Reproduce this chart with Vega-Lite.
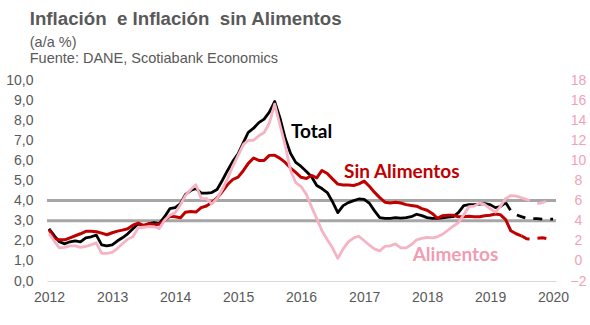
{
  "$schema": "https://vega.github.io/schema/vega-lite/v6.json",
  "width": 509,
  "height": 201,
  "padding": {"left": 5, "top": 9, "right": 2, "bottom": 2},
  "background": "white",
  "config": {
    "view": {"stroke": null},
    "font": "Liberation Sans",
    "axis": {"grid": false, "ticks": false, "labelFont": "Liberation Sans", "labelFontSize": 14, "labelColor": "#595959", "title": null}
  },
  "title": {
    "text": "Inflación\u00a0 e Inflación\u00a0 sin Alimentos",
    "subtitle": ["(a/a %)", "Fuente: DANE, Scotiabank Economics"],
    "anchor": "start",
    "frame": "bounds",
    "dx": 24,
    "font": "Liberation Sans",
    "fontSize": 18.7,
    "fontWeight": "bold",
    "color": "#595959",
    "subtitleFont": "Liberation Sans",
    "subtitleFontSize": 14.5,
    "subtitleColor": "#595959",
    "subtitleLineHeight": 16,
    "subtitlePadding": 7,
    "offset": 8
  },
  "datasets": {
    "d": [
      {"f": "2012-01-01", "T": 2.6, "S": 2.55, "A": 2.7},
      {"f": "2012-02-01", "T": 2.25, "S": 2.11, "A": 1.95},
      {"f": "2012-03-01", "T": 1.95, "S": 2.05, "A": 1.3},
      {"f": "2012-04-01", "T": 1.85, "S": 2.05, "A": 1.35},
      {"f": "2012-05-01", "T": 1.95, "S": 2.15, "A": 1.5},
      {"f": "2012-06-01", "T": 2.0, "S": 2.25, "A": 1.5},
      {"f": "2012-07-01", "T": 1.95, "S": 2.35, "A": 1.35},
      {"f": "2012-08-01", "T": 2.15, "S": 2.47, "A": 1.45},
      {"f": "2012-09-01", "T": 2.2, "S": 2.47, "A": 1.6},
      {"f": "2012-10-01", "T": 2.28, "S": 2.45, "A": 1.8},
      {"f": "2012-11-01", "T": 1.8, "S": 2.38, "A": 0.75},
      {"f": "2012-12-01", "T": 1.75, "S": 2.3, "A": 0.74},
      {"f": "2013-01-01", "T": 1.8, "S": 2.4, "A": 0.85},
      {"f": "2013-02-01", "T": 2.0, "S": 2.48, "A": 1.25},
      {"f": "2013-03-01", "T": 2.15, "S": 2.53, "A": 1.7},
      {"f": "2013-04-01", "T": 2.35, "S": 2.6, "A": 2.16},
      {"f": "2013-05-01", "T": 2.6, "S": 2.78, "A": 2.4},
      {"f": "2013-06-01", "T": 2.85, "S": 2.88, "A": 3.3},
      {"f": "2013-07-01", "T": 2.75, "S": 2.77, "A": 3.35},
      {"f": "2013-08-01", "T": 2.85, "S": 2.85, "A": 3.4},
      {"f": "2013-09-01", "T": 2.9, "S": 2.8, "A": 3.4},
      {"f": "2013-10-01", "T": 2.85, "S": 2.82, "A": 3.22},
      {"f": "2013-11-01", "T": 3.2, "S": 3.02, "A": 4.05},
      {"f": "2013-12-01", "T": 3.6, "S": 3.22, "A": 4.55},
      {"f": "2014-01-01", "T": 3.65, "S": 3.2, "A": 4.8},
      {"f": "2014-02-01", "T": 3.85, "S": 3.15, "A": 5.6},
      {"f": "2014-03-01", "T": 4.3, "S": 3.42, "A": 6.5},
      {"f": "2014-04-01", "T": 4.5, "S": 3.46, "A": 7.1},
      {"f": "2014-05-01", "T": 4.6, "S": 3.43, "A": 7.57},
      {"f": "2014-06-01", "T": 4.37, "S": 3.65, "A": 6.2},
      {"f": "2014-07-01", "T": 4.37, "S": 3.73, "A": 6.2},
      {"f": "2014-08-01", "T": 4.4, "S": 3.9, "A": 5.65},
      {"f": "2014-09-01", "T": 4.55, "S": 4.13, "A": 6.2},
      {"f": "2014-10-01", "T": 5.0, "S": 4.45, "A": 7.1},
      {"f": "2014-11-01", "T": 5.5, "S": 4.8, "A": 8.2},
      {"f": "2014-12-01", "T": 5.95, "S": 5.05, "A": 9.4},
      {"f": "2015-01-01", "T": 6.33, "S": 5.17, "A": 10.5},
      {"f": "2015-02-01", "T": 6.9, "S": 5.5, "A": 11.6},
      {"f": "2015-03-01", "T": 7.4, "S": 5.85, "A": 12.0},
      {"f": "2015-04-01", "T": 7.6, "S": 6.12, "A": 12.0},
      {"f": "2015-05-01", "T": 7.88, "S": 6.0, "A": 12.45},
      {"f": "2015-06-01", "T": 8.05, "S": 6.0, "A": 12.78},
      {"f": "2015-07-01", "T": 8.4, "S": 6.25, "A": 13.7},
      {"f": "2015-08-01", "T": 8.93, "S": 6.26, "A": 15.6},
      {"f": "2015-09-01", "T": 8.1, "S": 6.1, "A": 13.5},
      {"f": "2015-10-01", "T": 7.1, "S": 5.9, "A": 11.5},
      {"f": "2015-11-01", "T": 6.35, "S": 5.62, "A": 9.0},
      {"f": "2015-12-01", "T": 5.9, "S": 5.4, "A": 7.8},
      {"f": "2016-01-01", "T": 5.7, "S": 5.16, "A": 7.4},
      {"f": "2016-02-01", "T": 5.45, "S": 5.1, "A": 6.6},
      {"f": "2016-03-01", "T": 5.2, "S": 5.25, "A": 5.4},
      {"f": "2016-04-01", "T": 4.75, "S": 5.13, "A": 4.2},
      {"f": "2016-05-01", "T": 4.6, "S": 5.5, "A": 3.0},
      {"f": "2016-06-01", "T": 4.4, "S": 5.35, "A": 2.1},
      {"f": "2016-07-01", "T": 3.95, "S": 5.08, "A": 1.3},
      {"f": "2016-08-01", "T": 3.4, "S": 4.82, "A": 0.25},
      {"f": "2016-09-01", "T": 3.75, "S": 4.78, "A": 1.2},
      {"f": "2016-10-01", "T": 3.9, "S": 4.78, "A": 1.9},
      {"f": "2016-11-01", "T": 4.0, "S": 4.75, "A": 2.3},
      {"f": "2016-12-01", "T": 4.08, "S": 4.83, "A": 2.45},
      {"f": "2017-01-01", "T": 4.06, "S": 4.97, "A": 2.0},
      {"f": "2017-02-01", "T": 3.86, "S": 4.7, "A": 1.56},
      {"f": "2017-03-01", "T": 3.5, "S": 4.42, "A": 1.2},
      {"f": "2017-04-01", "T": 3.15, "S": 4.15, "A": 1.0},
      {"f": "2017-05-01", "T": 3.12, "S": 3.92, "A": 1.45},
      {"f": "2017-06-01", "T": 3.12, "S": 3.88, "A": 1.5},
      {"f": "2017-07-01", "T": 3.15, "S": 3.92, "A": 1.7},
      {"f": "2017-08-01", "T": 3.13, "S": 3.88, "A": 1.3},
      {"f": "2017-09-01", "T": 3.15, "S": 3.8, "A": 1.3},
      {"f": "2017-10-01", "T": 3.2, "S": 3.76, "A": 1.6},
      {"f": "2017-11-01", "T": 3.32, "S": 3.72, "A": 2.1},
      {"f": "2017-12-01", "T": 3.25, "S": 3.6, "A": 2.25},
      {"f": "2018-01-01", "T": 3.15, "S": 3.52, "A": 2.35},
      {"f": "2018-02-01", "T": 3.12, "S": 3.35, "A": 2.3},
      {"f": "2018-03-01", "T": 3.12, "S": 3.12, "A": 2.4},
      {"f": "2018-04-01", "T": 3.14, "S": 3.25, "A": 2.65},
      {"f": "2018-05-01", "T": 3.18, "S": 3.27, "A": 3.05},
      {"f": "2018-06-01", "T": 3.2, "S": 3.27, "A": 3.45},
      {"f": "2018-07-01", "T": 3.4, "S": 3.2, "A": 3.8},
      {"f": "2018-08-01", "T": 3.75, "S": 3.2, "A": 4.6},
      {"f": "2018-09-01", "T": 3.8, "S": 3.22, "A": 5.4},
      {"f": "2018-10-01", "T": 3.8, "S": 3.2, "A": 5.46},
      {"f": "2018-11-01", "T": 3.82, "S": 3.2, "A": 5.75},
      {"f": "2018-12-01", "T": 3.85, "S": 3.25, "A": 5.6},
      {"f": "2019-01-01", "T": 3.8, "S": 3.27, "A": 5.2},
      {"f": "2019-02-01", "T": 3.65, "S": 3.33, "A": 4.85},
      {"f": "2019-03-01", "T": 3.7, "S": 3.3, "A": 5.4},
      {"f": "2019-04-01", "T": 3.9, "TP": 3.9, "S": 3.05, "A": 6.2},
      {"f": "2019-05-01", "TP": 3.5, "S": 2.5, "A": 6.5},
      {"f": "2019-06-01", "TP": 3.3, "S": 2.35, "A": 6.45},
      {"f": "2019-07-01", "TP": 3.2, "S": 2.25, "SP": 2.25, "A": 6.3, "AP": 6.3},
      {"f": "2019-08-01", "TP": 3.12, "SP": 2.1, "AP": 6.1},
      {"f": "2019-09-01", "TP": 3.1, "SP": 2.08, "AP": 5.9},
      {"f": "2019-10-01", "TP": 3.1, "SP": 2.12, "AP": 5.7},
      {"f": "2019-11-01", "TP": 3.08, "SP": 2.15, "AP": 5.8},
      {"f": "2019-12-01", "TP": 3.08, "SP": 2.1, "AP": 6.0},
      {"f": "2020-01-01", "TP": 3.08, "SP": 2.05, "AP": 6.25}
    ],
    "lab": [
      {"f": "2015-11-03", "v": 7.43, "t": "Total"},
      {"f": "2016-09-06", "v": 5.42, "t": "Sin Alimentos"}
    ],
    "labA": [
      {"f": "2017-10-09", "v": 0.62, "t": "Alimentos"}
    ],
    "ref": [
      {"v": 3},
      {"v": 4}
    ]
  },
  "resolve": {"scale": {"y": "independent"}},
  "layer": [
    {
      "encoding": {
        "y": {"field": "v", "type": "quantitative", "scale": {"domain": [0, 10], "nice": false, "zero": false},
          "axis": {"values": [0, 1, 2, 3, 4, 5, 6, 7, 8, 9, 10], "labelExpr": "replace(format(datum.value, '.1f'), '.', ',')", "labelPadding": 14, "domain": false, "labelFlush": false}}
      },
      "layer": [
        {
          "data": {"name": "ref"},
          "mark": {"type": "rule", "color": "#A6A6A6", "strokeWidth": 3}
        },
        {
          "encoding": {
            "x": {"field": "f", "type": "temporal",
              "scale": {"type": "utc", "domain": [{"year": 2011, "month": 12, "date": 20, "utc": true}, {"year": 2020, "month": 1, "date": 18, "utc": true}], "nice": false},
              "axis": {"tickCount": {"interval": "year", "step": 1}, "format": "%Y", "labelPadding": 9, "domainColor": "#D9D9D9", "domainWidth": 1.2, "labelFlush": false, "labelOverlap": false}}
          },
          "layer": [
            {
              "data": {"name": "d"},
              "transform": [{"fold": ["T"], "as": ["s", "v"]}, {"filter": "isValid(datum.v)"}],
              "mark": {"type": "line", "color": "#000000", "strokeWidth": 2.8, "strokeJoin": "round"}
            },
            {
              "data": {"name": "d"},
              "transform": [{"fold": ["TP"], "as": ["s", "v"]}, {"filter": "isValid(datum.v)"}],
              "mark": {"type": "line", "color": "#000000", "strokeWidth": 2.8, "strokeDash": [9, 8]}
            },
            {
              "data": {"name": "d"},
              "transform": [{"fold": ["S"], "as": ["s", "v"]}, {"filter": "isValid(datum.v)"}],
              "mark": {"type": "line", "color": "#C00000", "strokeWidth": 3, "strokeJoin": "round"}
            },
            {
              "data": {"name": "d"},
              "transform": [{"fold": ["SP"], "as": ["s", "v"]}, {"filter": "isValid(datum.v)"}],
              "mark": {"type": "line", "color": "#C00000", "strokeWidth": 3, "strokeDash": [9, 8]}
            },
            {
              "data": {"name": "lab"},
              "mark": {"type": "text", "font": "Lato", "fontWeight": "bold", "fontSize": 19, "align": "left", "baseline": "middle"},
              "encoding": {
                "text": {"field": "t"},
                "color": {"field": "t", "type": "nominal", "scale": {"domain": ["Total", "Sin Alimentos"], "range": ["#000000", "#C00000"]}, "legend": null}
              }
            }
          ]
        }
      ]
    },
    {
      "encoding": {
        "x": {"field": "f", "type": "temporal",
          "scale": {"type": "utc", "domain": [{"year": 2011, "month": 12, "date": 20, "utc": true}, {"year": 2020, "month": 1, "date": 18, "utc": true}], "nice": false},
          "axis": {"tickCount": {"interval": "year", "step": 1}, "format": "%Y", "labelPadding": 9, "domainColor": "#D9D9D9", "domainWidth": 1.2, "labelFlush": false, "labelOverlap": false}},
        "y": {"field": "v", "type": "quantitative", "scale": {"domain": [-2, 18], "nice": false, "zero": false},
          "axis": {"orient": "right", "values": [-2, 0, 2, 4, 6, 8, 10, 12, 14, 16, 18], "format": "d", "labelColor": "#F2A2B6", "labelAlign": "center", "labelPadding": 22, "domain": false, "labelFlush": false}}
      },
      "layer": [
        {
          "data": {"name": "d"},
          "transform": [{"fold": ["A"], "as": ["s", "v"]}, {"filter": "isValid(datum.v)"}],
          "mark": {"type": "line", "color": "#F5B3C3", "strokeWidth": 2.8, "strokeJoin": "round"}
        },
        {
          "data": {"name": "d"},
          "transform": [{"fold": ["AP"], "as": ["s", "v"]}, {"filter": "isValid(datum.v)"}],
          "mark": {"type": "line", "color": "#F5B3C3", "strokeWidth": 2.8, "strokeDash": [9, 8]}
        },
        {
          "data": {"name": "labA"},
          "mark": {"type": "text", "font": "Lato", "fontWeight": "bold", "fontSize": 19, "align": "left", "baseline": "middle", "color": "#F19CB3"},
          "encoding": {"text": {"field": "t"}}
        }
      ]
    }
  ]
}
